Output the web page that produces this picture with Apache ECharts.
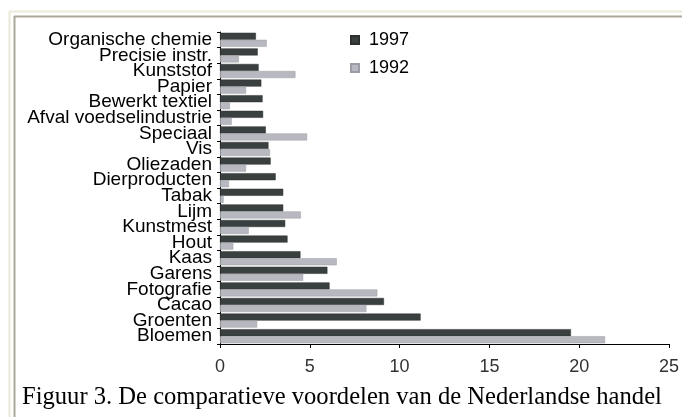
<!DOCTYPE html>
<html>
<head>
<meta charset="utf-8">
<script src="https://cdn.jsdelivr.net/npm/echarts@6/dist/echarts.min.js"></script>
<style>
html,body{margin:0;padding:0;background:#fff;}
#chart{width:682px;height:417px;}
</style>
</head>
<body>
<div id="chart"></div>
<script>
const categories = ["Organische chemie","Precisie instr.","Kunststof","Papier","Bewerkt textiel","Afval voedselindustrie","Speciaal","Vis","Oliezaden","Dierproducten","Tabak","Lijm","Kunstmest","Hout","Kaas","Garens","Fotografie","Cacao","Groenten","Bloemen"];
const values1997 = [2.0,2.1,2.15,2.3,2.37,2.4,2.55,2.7,2.82,3.1,3.52,3.52,3.63,3.76,4.48,5.98,6.1,9.13,11.17,19.54];
const values1992 = [2.6,1.05,4.2,1.45,0.55,0.65,4.85,2.78,1.45,0.5,0.2,4.5,1.6,0.74,6.5,4.63,8.76,8.15,2.07,21.44];
const xTicks = [0,5,10,15,20,25];
const caption = "Figuur 3. De comparatieve voordelen van de Nederlandse handel";

const chart = echarts.init(document.getElementById('chart'), null, {renderer:'canvas'});
const sans = "'Liberation Sans', Arial, sans-serif";
chart.setOption({
  animation:false,
  backgroundColor:'#ffffff',
  title:{
    text:caption, left:17, top:380,
    textStyle:{fontFamily:"'Liberation Serif','Times New Roman',serif",fontSize:24.6,fontWeight:'normal',color:'#000'}
  },
  graphic:[
    {type:'line',shape:{x1:9,y1:11.5,x2:682,y2:11.5},style:{stroke:'#ece9d8',lineWidth:2},silent:true},
    {type:'line',shape:{x1:9.5,y1:11,x2:9.5,y2:417},style:{stroke:'#ece9d8',lineWidth:2},silent:true},
    {type:'line',shape:{x1:14,y1:16.5,x2:682,y2:16.5},style:{stroke:'#aca899',lineWidth:2},silent:true},
    {type:'line',shape:{x1:14.5,y1:16,x2:14.5,y2:417},style:{stroke:'#aca899',lineWidth:2},silent:true}
  ],
  legend:{
    orient:'vertical', left:345, top:26, itemWidth:8, itemHeight:8, itemGap:10,
    icon:'rect',
    data:['1997','1992'],
    textStyle:{fontFamily:sans,fontSize:18,color:'#000',padding:[0,0,0,5]}
  },
  grid:{left:220,right:12,top:32,bottom:73,containLabel:false},
  xAxis:{
    type:'value', min:0, max:25, interval:5,
    splitLine:{show:false},
    axisLine:{show:true,lineStyle:{color:'#000',width:1}},
    axisTick:{show:true,length:4,lineStyle:{color:'#000'}},
    axisLabel:{fontFamily:sans,fontSize:18,color:'#333',margin:14,
      formatter:function(v){return xTicks.indexOf(v)>=0?String(v):'';}}
  },
  yAxis:{
    type:'category', data:categories, inverse:true,
    axisLine:{show:true,lineStyle:{color:'#000',width:1}},
    axisTick:{show:true,length:3,lineStyle:{color:'#000'}},
    axisLabel:{interval:0,fontFamily:sans,fontSize:19,color:'#000',margin:8}
  },
  series:[
    {name:'1997',type:'bar',data:values1997,barGap:'0%',barCategoryGap:'10%',
      itemStyle:{color:'#3a403f',borderColor:'#2c3130',borderWidth:0.5}},
    {name:'1992',type:'bar',data:values1992,barGap:'0%',barCategoryGap:'10%',
      itemStyle:{color:'#b8b8c0',borderColor:'#9c9ca4',borderWidth:0.5}}
  ]
});
</script>
</body>
</html>
